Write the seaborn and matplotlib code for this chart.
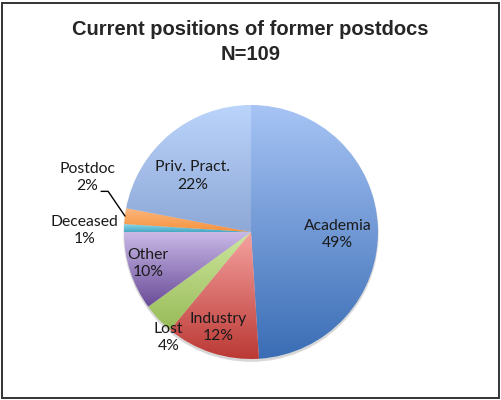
import numpy as np
import matplotlib
matplotlib.use("Agg")
import matplotlib.pyplot as plt
from matplotlib.patches import Rectangle, Circle
import seaborn as sns

# Data (share of former postdocs, %)
positions = ['Academia', 'Industry', 'Lost', 'Other', 'Deceased', 'Postdoc', 'Priv. Pract.']
percents = [49, 12, 4, 10, 1, 2, 22]

# Excel-like gradient fills, light at the top, dark at the bottom
top_colors = ['#A7C4F5', '#F5A29F', '#CDE69E', '#C9B9E7', '#8AD6EA', '#FBB67C', '#BAD4FB']
bottom_colors = ['#3A6DB5', '#BB3935', '#98BB57', '#694B97', '#48A8C3', '#F6923F', '#8EA8D7']

# label placement in pie-radius units (Excel "best fit" look)
label_xy = [(0.68, -0.02), (-0.26, -0.75), (-0.65, -0.83), (-0.81, -0.25),
            (-1.31, 0.01), (-1.29, 0.43), (-0.46, 0.44)]

sns.set_style("white")
plt.rcParams['font.family'] = ['Lato', 'DejaVu Sans']

fig = plt.figure(figsize=(5.01, 4.0), dpi=100)
ax = fig.add_axes([0, 0, 1, 1])

# pie centre at (251, 232) px, radius 127 px
r_px = 127
xlim = (-251 / r_px, (501 - 251) / r_px)
ylim = (-(400 - 232) / r_px, 232 / r_px)

# soft shadow under the pie
for i, a in enumerate([0.05, 0.05, 0.06]):
    ax.add_patch(Circle((0.0, -0.012 - 0.006 * i), 1.0 + 0.004 * (2 - i),
                        facecolor='black', alpha=a, lw=0, zorder=0))

wedges, _ = ax.pie(percents, startangle=90, counterclock=False, radius=1.0,
                   colors=['none'] * len(percents),
                   wedgeprops=dict(linewidth=0))

grad = np.linspace(0, 1, 256).reshape(-1, 1)
for w, c_top, c_bot in zip(wedges, top_colors, bottom_colors):
    ext = w.get_path().get_extents()
    cmap = sns.blend_palette([c_bot, c_top], as_cmap=True)
    im = ax.imshow(grad, cmap=cmap, origin='lower', aspect='auto',
                   extent=[ext.x0, ext.x1, ext.y0, ext.y1], zorder=1,
                   interpolation='bilinear')
    im.set_clip_path(w)

for name, pct, (lx, ly) in zip(positions, percents, label_xy):
    ax.text(lx, ly, f'{name}\n{pct}%', ha='center', va='center',
            fontsize=11.3, color='#1a1a1a', linespacing=1.3, zorder=3)

# leader line for the Postdoc slice
k = positions.index('Postdoc')
mid = 90 - 360 * (sum(percents[:k]) + percents[k] / 2) / 100
ex, ey = np.cos(np.radians(mid)), np.sin(np.radians(mid))
ax.plot([-1.18, -1.125, ex * 1.0], [0.32, 0.32, ey * 1.0],
        color='black', lw=1.0, zorder=3)

ax.set_xlim(*xlim)
ax.set_ylim(*ylim)
ax.set_aspect('auto')
ax.axis('off')

fig.text(0.5, 1 - 42 / 400, 'Current positions of former postdocs\nN=109',
         ha='center', va='center', fontsize=14.5, fontweight='bold',
         family=['Liberation Sans', 'DejaVu Sans'], linespacing=1.45)

fig.patches.append(Rectangle((2 / 501, 2.5 / 400), 496.5 / 501, 395 / 400,
                             transform=fig.transFigure, fill=False,
                             edgecolor='#333333', lw=1.4))

fig.savefig('out.png', dpi=100)
